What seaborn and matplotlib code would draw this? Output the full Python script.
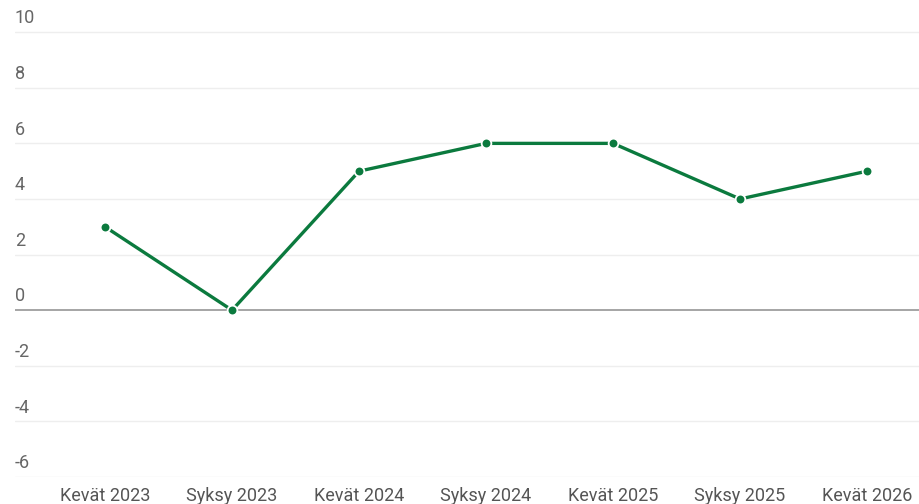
import numpy as np
import pandas as pd
import seaborn as sns
from matplotlib import pyplot as plt
import matplotlib.transforms as mtransforms

# data
kaudet = ["Kevät 2023", "Syksy 2023", "Kevät 2024", "Syksy 2024",
          "Kevät 2025", "Syksy 2025", "Kevät 2026"]
arvot = [3, 0, 5, 6, 6, 4, 5]
y_ticks = [-6, -4, -2, 0, 2, 4, 6, 8, 10]

sns.set_theme(style="white")
plt.rcParams["font.family"] = ["Roboto", "DejaVu Sans"]

df = pd.DataFrame({"kausi": kaudet, "arvo": arvot, "i": np.arange(len(kaudet))})

fig = plt.figure(figsize=(9.2, 5.04), dpi=100)
ax = fig.add_axes([15/920, 27/504, 1 - 15/920, 449/504])

vihrea = "#0b7a3e"
sns.lineplot(data=df, x="i", y="arvo", ax=ax, color=vihrea, lw=2.4,
             marker="o", markersize=7, markeredgecolor="white", markeredgewidth=1.3,
             zorder=5)

ax.set_xlim(-0.709, 6.417)
ax.set_ylim(-6, 10.15)

# grid lines with labels above them
trans = mtransforms.blended_transform_factory(ax.transAxes, ax.transData)
for t in y_ticks:
    if t == 0:
        ax.axhline(t, color="#9e9e9e", lw=1.3, zorder=2)
    else:
        ax.axhline(t, color="#eeeeee", lw=1.0, zorder=1)
    ax.text(0, t + 0.17, str(t), transform=trans, ha="left", va="bottom",
            fontsize=13, color="#666666")

ax.set_xticks(df["i"])
ax.set_xticklabels(kaudet, fontsize=13, color="#555555")
ax.set_yticks([])
ax.tick_params(axis="x", length=0, pad=7)
ax.set_xlabel("")
ax.set_ylabel("")
for s in ax.spines.values():
    s.set_visible(False)

fig.savefig("out.png", dpi=100)
